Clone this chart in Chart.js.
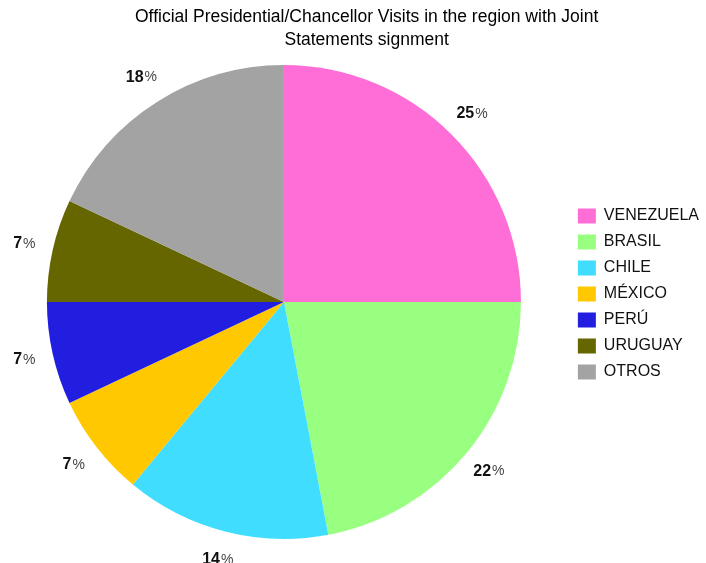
<!DOCTYPE html>
<html>
<head>
<meta charset="utf-8">
<script src="https://cdn.jsdelivr.net/npm/chart.js@4/dist/chart.umd.min.js"></script>
<style>
  html, body { margin: 0; padding: 0; background: #fff; }
</style>
</head>
<body>
<canvas id="pieCanvas" width="706" height="563"></canvas>
<script>
const countries = ["VENEZUELA", "BRASIL", "CHILE", "MÉXICO", "PERÚ", "URUGUAY", "OTROS"];
const shares = [25, 22, 14, 7, 7, 7, 18];
const sliceColors = ["#ff6ed6", "#98ff80", "#40ddff", "#ffc800", "#221ee0", "#666600", "#a3a3a3"];
const titleLines = [
  "     Official Presidential/Chancellor Visits in the region with Joint",
  "     Statements signment",
];

// percentage labels outside the pie, digits bold and "%" regular
const pctLabels = {
  id: "pctLabels",
  afterDatasetsDraw(chart) {
    const ctx = chart.ctx;
    const meta = chart.getDatasetMeta(0);
    ctx.save();
    ctx.textBaseline = "middle";
    ctx.textAlign = "left";
    meta.data.forEach((arc, i) => {
      const { x, y, startAngle, endAngle, outerRadius } = arc.getProps(
        ["x", "y", "startAngle", "endAngle", "outerRadius"], true
      );
      const mid = (startAngle + endAngle) / 2;
      const r = outerRadius + 29;
      const cx = x + Math.cos(mid) * r;
      const cy = y + Math.sin(mid) * r;
      const num = String(shares[i]);
      ctx.font = 'bold 16px "Liberation Sans", Arial, sans-serif';
      const w1 = ctx.measureText(num).width;
      ctx.font = '14px "Liberation Sans", Arial, sans-serif';
      const w2 = ctx.measureText("%").width;
      const left = cx - (w1 + w2 + 1) / 2;
      ctx.font = 'bold 16px "Liberation Sans", Arial, sans-serif';
      ctx.fillStyle = "#111";
      ctx.fillText(num, left, cy);
      ctx.font = '14px "Liberation Sans", Arial, sans-serif';
      ctx.fillStyle = "#444";
      ctx.fillText("%", left + w1 + 1, cy);
    });
    ctx.restore();
  },
};

const ctx = document.getElementById("pieCanvas").getContext("2d");
new Chart(ctx, {
  type: "pie",
  data: {
    labels: countries,
    datasets: [
      {
        data: shares,
        backgroundColor: sliceColors,
        borderWidth: 0,
        radius: 237,
      },
    ],
  },
  options: {
    responsive: false,
    animation: false,
    layout: { padding: { top: 0, right: -3, bottom: 19, left: 0 } },
    plugins: {
      title: {
        display: true,
        text: titleLines,
        color: "#000",
        font: { family: '"Liberation Sans", Arial, sans-serif', size: 17.5, weight: "normal", lineHeight: "22.5px" },
        padding: { top: 6, bottom: 9 },
      },
      legend: {
        position: "right",
        title: { display: true, text: "", font: { size: 20, lineHeight: 1.2 }, padding: 10 },
        labels: {
          boxWidth: 18,
          boxHeight: 15,
          padding: 10,
          color: "#111",
          font: { family: '"Liberation Sans", Arial, sans-serif', size: 16 },
        },
      },
      tooltip: { enabled: false },
    },
  },
  plugins: [pctLabels],
});
</script>
</body>
</html>
